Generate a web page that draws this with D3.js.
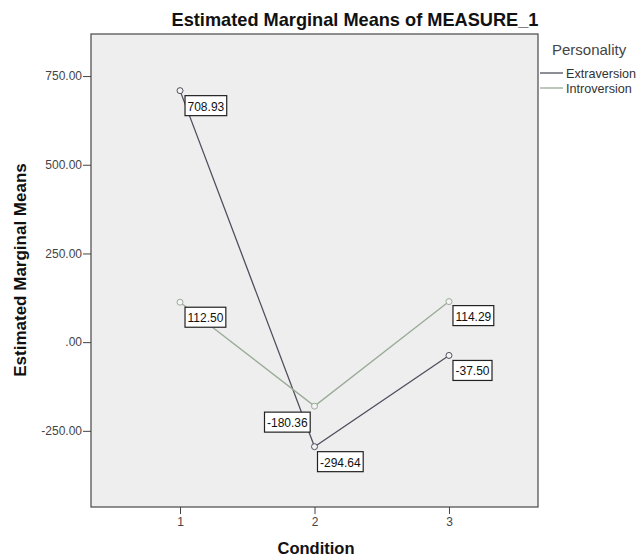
<!DOCTYPE html>
<html>
<head>
<meta charset="utf-8">
<script src="https://cdn.jsdelivr.net/npm/d3@7.9.0/dist/d3.min.js"></script>
<style>
  body { margin: 0; background: #fff; }
  text { font-family: Arial, "Liberation Sans", sans-serif; }
</style>
</head>
<body>
<div id="viz"></div>
<script>
// data
const conditions = [1, 2, 3];
const seriesNames = ["Extraversion", "Introversion"];
const extraversion = [708.93, -294.64, -37.50];
const introversion = [112.50, -180.36, 114.29];
const yTicks = [-250, 0, 250, 500, 750];
const colors = ["#4f4f5e", "#9aab98"];

const width = 636, height = 557;
const frame = {left: 91, top: 34, right: 538, bottom: 507};

// SPSS style numbers: hyphen minus, ".00" for zero
const locale = d3.formatLocale({decimal: ".", thousands: ",", grouping: [3], currency: ["", ""], minus: "-"});
const fmt2 = locale.format(".2f");
const fmtTick = d => d === 0 ? ".00" : fmt2(d);

const svg = d3.select("#viz").append("svg")
    .attr("width", width)
    .attr("height", height);

const x = d3.scaleLinear()
    .domain([0.338, 3.662])
    .range([frame.left, frame.right]);

const y = d3.scaleLinear()
    .domain([-464.7, 868.6])
    .range([frame.bottom, frame.top]);

// plot background
svg.append("rect")
    .attr("x", frame.left)
    .attr("y", frame.top)
    .attr("width", frame.right - frame.left)
    .attr("height", frame.bottom - frame.top)
    .attr("fill", "#eeeeee")
    .attr("stroke", "#555")
    .attr("stroke-width", 1.3);

// axes
const yAxis = svg.append("g")
    .attr("transform", `translate(${frame.left},0)`)
    .call(d3.axisLeft(y).tickValues(yTicks).tickFormat(fmtTick).tickSize(8).tickPadding(1));
const xAxis = svg.append("g")
    .attr("transform", `translate(0,${frame.bottom})`)
    .call(d3.axisBottom(x).tickValues(conditions).tickFormat(d3.format("d")).tickSize(7).tickPadding(3));
[yAxis, xAxis].forEach(g => {
    g.select(".domain").remove();
    g.selectAll("line").attr("stroke", "#444");
    g.selectAll("text").attr("font-size", "12px").attr("fill", "#444")
        .attr("font-family", "Arial, 'Liberation Sans', sans-serif");
});

// lines + markers
const series = [extraversion, introversion];
const line = d3.line().x((d, i) => x(conditions[i])).y(d => y(d));
series.forEach((vals, s) => {
    svg.append("path")
        .datum(vals)
        .attr("fill", "none")
        .attr("stroke", colors[s])
        .attr("stroke-width", 1.3)
        .attr("d", line);
    svg.selectAll(null)
        .data(vals)
        .join("circle")
        .attr("cx", (d, i) => x(conditions[i]))
        .attr("cy", d => y(d))
        .attr("r", 3)
        .attr("fill", "#f4f4f4")
        .attr("stroke", colors[s])
        .attr("stroke-width", 1);
});

// value labels (placement offsets as SPSS drew them)
const labelOffsets = [
    [[5, 5], [3, 5], [4, 5]],
    [[5, 5], [-50, 6], [4, 4]]
];
series.forEach((vals, s) => {
    vals.forEach((v, i) => {
        const px = x(conditions[i]) + labelOffsets[s][i][0];
        const py = y(v) + labelOffsets[s][i][1];
        const g = svg.append("g").attr("transform", `translate(${px},${py})`);
        const t = g.append("text")
            .attr("x", 2.5)
            .attr("y", 15)
            .attr("font-size", "12px")
            .attr("fill", "#111")
            .text(fmt2(v));
        const w = t.node().getComputedTextLength();
        g.insert("rect", "text")
            .attr("width", w + 5)
            .attr("height", 20)
            .attr("fill", "#fff")
            .attr("stroke", "#222")
            .attr("stroke-width", 1.2);
    });
});

// title and axis labels
svg.append("text")
    .attr("x", 355)
    .attr("y", 26)
    .attr("text-anchor", "middle")
    .attr("font-size", "18.2px")
    .attr("font-weight", "bold")
    .attr("fill", "#111")
    .text("Estimated Marginal Means of MEASURE_1");

svg.append("text")
    .attr("transform", "translate(26,270) rotate(-90)")
    .attr("text-anchor", "middle")
    .attr("font-size", "17px")
    .attr("font-weight", "bold")
    .attr("fill", "#111")
    .text("Estimated Marginal Means");

svg.append("text")
    .attr("x", 316)
    .attr("y", 554)
    .attr("text-anchor", "middle")
    .attr("font-size", "16.5px")
    .attr("font-weight", "bold")
    .attr("fill", "#111")
    .text("Condition");

// legend
const legend = svg.append("g").attr("transform", "translate(540,0)");
legend.append("text")
    .attr("x", 12)
    .attr("y", 55)
    .attr("font-size", "15px")
    .attr("fill", "#444")
    .text("Personality");
seriesNames.forEach((name, i) => {
    const ly = 73 + i * 15;
    legend.append("line")
        .attr("x1", 0).attr("x2", 23)
        .attr("y1", ly).attr("y2", ly)
        .attr("stroke", colors[i])
        .attr("stroke-width", 1.3);
    legend.append("text")
        .attr("x", 26)
        .attr("y", ly + 4.5)
        .attr("font-size", "12.6px")
        .attr("fill", "#333")
        .text(name);
});
</script>
</body>
</html>
